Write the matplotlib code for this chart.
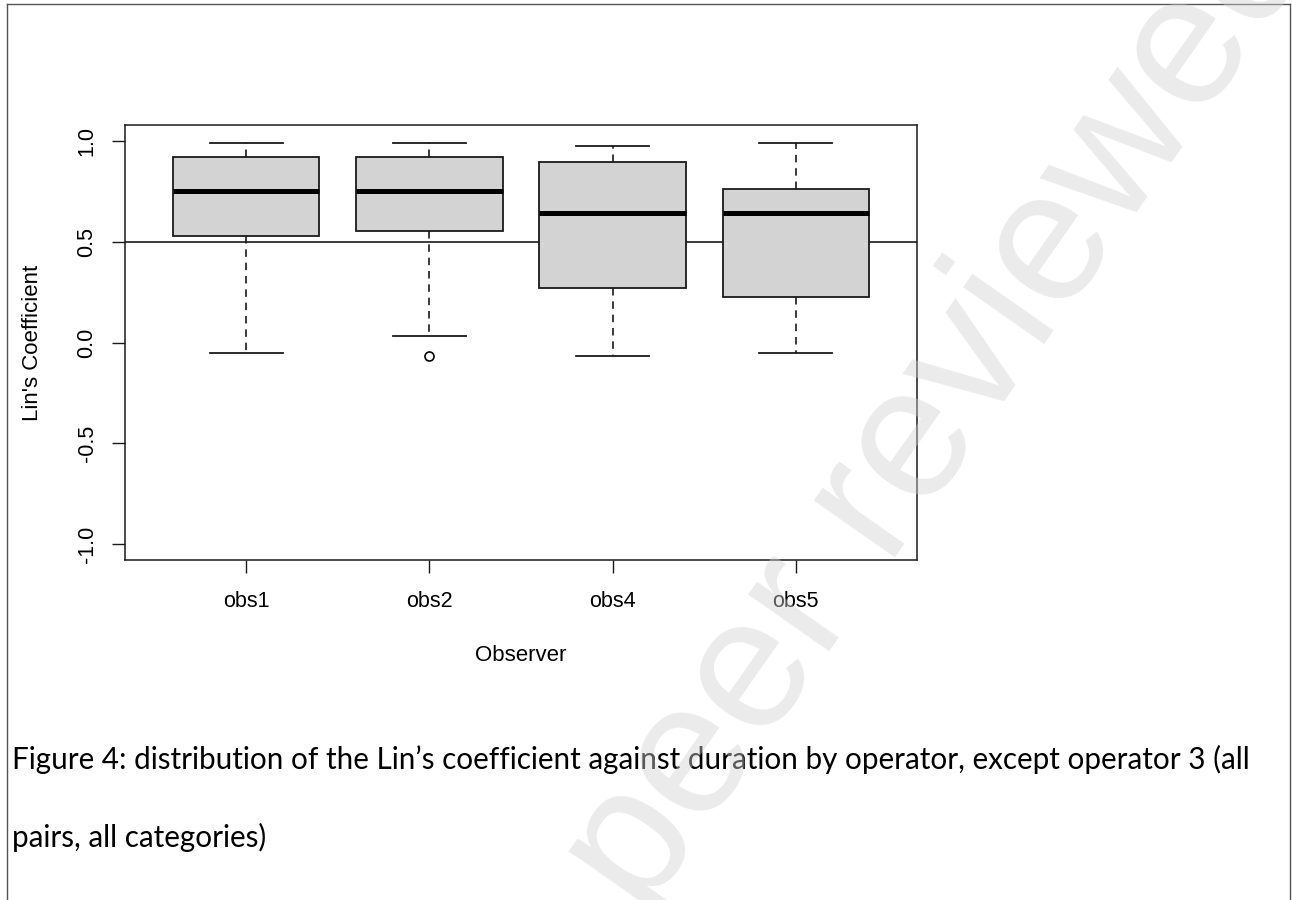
import matplotlib
matplotlib.use("Agg")
import matplotlib.pyplot as plt
from matplotlib.lines import Line2D

# ---- data ----
observers = ["obs1", "obs2", "obs4", "obs5"]
whisker_low = [-0.052, 0.030, -0.067, -0.052]
q1_values = [0.531, 0.552, 0.272, 0.224]
medians = [0.754, 0.754, 0.643, 0.643]
q3_values = [0.919, 0.920, 0.894, 0.761]
whisker_high = [0.993, 0.993, 0.978, 0.990]
outliers = [[], [-0.067], [], []]
reference_line = 0.5
y_ticks = [-1.0, -0.5, 0.0, 0.5, 1.0]
y_tick_labels = ["-1.0", "-0.5", "0.0", "0.5", "1.0"]
x_label = "Observer"
y_label = "Lin's Coefficient"
caption_line1 = ("Figure 4: distribution of the Lin\u2019s coefficient against duration by "
                 "operator, except operator 3 (all")
caption_line2 = "pairs, all categories)"
watermark = "peer reviewed"

W, H = 1292, 900
fig = plt.figure(figsize=(W / 100, H / 100), dpi=100)
fig.patch.set_facecolor("white")

ax = fig.add_axes([125.3 / W, 1 - 560 / H, (916.7 - 125.3) / W, (560 - 125) / H])

stats = []
for i, name in enumerate(observers):
    stats.append(dict(label=name, whislo=whisker_low[i], q1=q1_values[i],
                      med=medians[i], q3=q3_values[i], whishi=whisker_high[i],
                      fliers=outliers[i]))

positions = list(range(1, len(observers) + 1))
ax.bxp(stats, positions=positions, widths=0.8, capwidths=0.4, patch_artist=True,
       showfliers=True,
       boxprops=dict(facecolor="#d3d3d3", edgecolor="#1a1a1a", linewidth=1.3),
       medianprops=dict(color="black", linewidth=3.6, solid_capstyle="butt"),
       whiskerprops=dict(color="#1a1a1a", linewidth=1.2, linestyle=(0, (4.5, 3.5))),
       capprops=dict(color="#1a1a1a", linewidth=1.3),
       flierprops=dict(marker="o", markerfacecolor="none", markeredgecolor="black",
                       markersize=6.5, markeredgewidth=1.2))

ax.axhline(reference_line, color="#1a1a1a", linewidth=1.2, zorder=1)

ax.set_xlim(0.34, len(observers) + 0.66)
ax.set_ylim(-1.08, 1.08)
ax.set_xticks(positions)
ax.set_xticklabels(observers)
ax.set_yticks(y_ticks)
ax.set_yticklabels(y_tick_labels)

tick_font = dict(family=["Liberation Sans", "DejaVu Sans"], size=15.5)
for lab in ax.get_xticklabels() + ax.get_yticklabels():
    lab.set_fontfamily(tick_font["family"])
    lab.set_fontsize(tick_font["size"])
ax.tick_params(axis="both", direction="out", length=9.5, width=1.0, color="#1a1a1a")
ax.tick_params(axis="x", pad=13)
ax.tick_params(axis="y", pad=10.5, labelrotation=90)
for lab in ax.get_yticklabels():
    lab.set_verticalalignment("center")

for sp in ax.spines.values():
    sp.set_linewidth(1.1)
    sp.set_color("#1a1a1a")

ax.set_xlabel(x_label, fontsize=16, family=["Liberation Sans", "DejaVu Sans"])
ax.set_ylabel(y_label, fontsize=16, family=["Liberation Sans", "DejaVu Sans"])
ax.xaxis.set_label_coords(0.5, (560 - 645) / 435)
ax.yaxis.set_label_coords((43.5 - 125.3) / 791.4, 0.5)

# ---- caption ----
cap_family = ["Lato", "DejaVu Sans"]
t1 = fig.text(12 / W, 1 - 769 / H, caption_line1, fontsize=20, family=cap_family,
              ha="left", va="baseline", color="black")
fig.canvas.draw()
w1 = t1.get_window_extent().width
cap_size = 20 * (1241 / w1)
t1.set_fontsize(cap_size)
fig.text(12 / W, 1 - 847 / H, caption_line2, fontsize=cap_size, family=cap_family,
         ha="left", va="baseline", color="black")

# ---- page border ----
border_color = "#555555"
fig.add_artist(Line2D([7 / W, 7 / W], [0, 1 - 4 / H], color=border_color, lw=1.0))
fig.add_artist(Line2D([7 / W, 1290 / W], [1 - 4 / H, 1 - 4 / H], color=border_color, lw=1.0))
fig.add_artist(Line2D([1290 / W, 1290 / W], [0, 1 - 4 / H], color=border_color, lw=1.0))

# ---- watermark ----
fig.text(981 / W, 1 - 435 / H, watermark, fontsize=135, rotation=55,
         rotation_mode="anchor", ha="center", va="baseline",
         family=["Liberation Sans", "DejaVu Sans"], color=(0.82, 0.82, 0.82),
         alpha=0.43, zorder=10)

fig.savefig("out.png", dpi=100, facecolor="white")
